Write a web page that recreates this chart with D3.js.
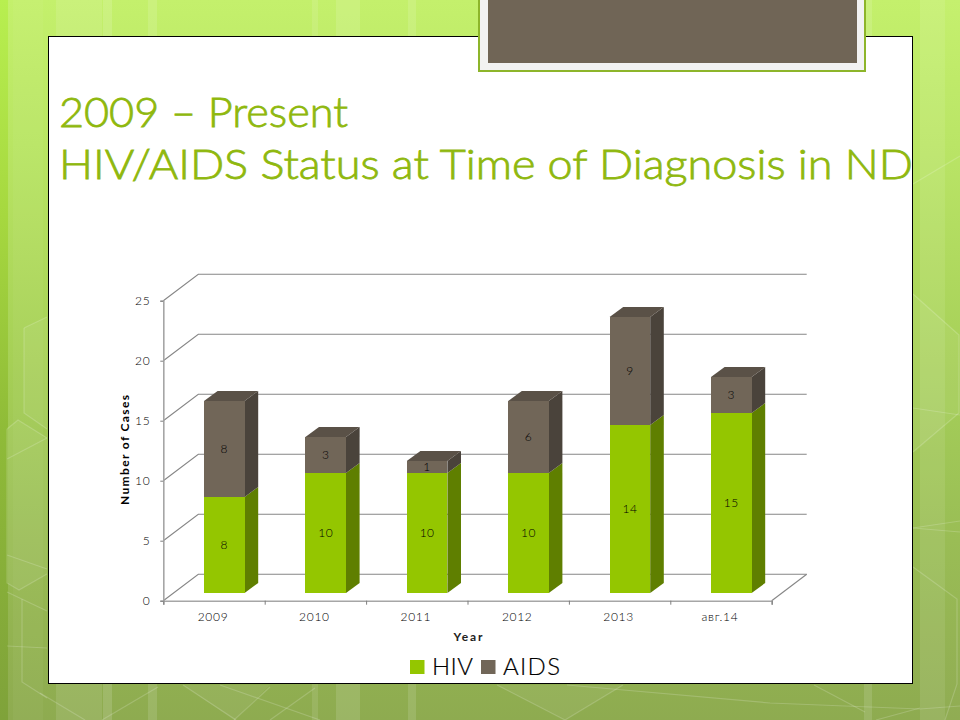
<!DOCTYPE html>
<html><head><meta charset="utf-8">
<style>html,body{margin:0;padding:0;background:#fff;overflow:hidden}svg{display:block}</style>
<script src="https://cdn.jsdelivr.net/npm/d3@7/dist/d3.min.js"></script>
</head><body><svg id="c" width="960" height="720"></svg>
<script>
const categories = ["2009","2010","2011","2012","2013","авг.14"];
const hivValues = [8,10,10,10,14,15];
const aidsValues = [8,3,1,6,9,3];
const yTicks = [0,5,10,15,20,25];
const seriesNames = ["HIV","AIDS"];
const titleLines = ["2009 – Present","HIV/AIDS Status at Time of Diagnosis in ND"];

const FONT = "Lato, 'Open Sans', sans-serif";
const svg = d3.select("#c");
const defs = svg.append("defs");

// slide background
const bg = defs.append("linearGradient").attr("id","bg").attr("x1",0).attr("y1",0).attr("x2",0).attr("y2",1);
[[0,"#c4f06c"],[0.2,"#b9e563"],[0.5,"#a6d056"],[0.75,"#98bc52"],[1,"#8eab50"]].forEach(s=>bg.append("stop").attr("offset",s[0]).attr("stop-color",s[1]));
svg.append("rect").attr("width",960).attr("height",720).attr("fill","url(#bg)");
// darker left edge band
const dk = defs.append("linearGradient").attr("id","dk").attr("x1",0).attr("y1",0).attr("x2",0).attr("y2",1);
[[0,"#b8ef50"],[0.3,"#a6d83f"],[0.6,"#8fbb38"],[1,"#7fa23a"]].forEach(s=>dk.append("stop").attr("offset",s[0]).attr("stop-color",s[1]));
svg.append("rect").attr("width",8).attr("height",720).attr("fill","url(#dk)");
// vertical light stripes
const stripes = [[13,43,.04],[56,102,.10],[103,112,.14],[148,157,.12],[312,318,.10],[336,360,.12],[408,416,.12],[864,872,.12],[920,945,.10],[945,960,.02]];
svg.append("g").selectAll("rect").data(stripes).join("rect")
  .attr("x",d=>d[0]).attr("y",0).attr("width",d=>d[1]-d[0]).attr("height",720).attr("fill","#fff").attr("opacity",d=>d[2]);
// faint facets
const facets = [
 "M7,429L18,420L47,438L47,574L19,590L7,583Z","M24,328L47,317L47,429L24,413Z",
 "M913,294L959,335L959,413L913,452Z","M497,685L623,685L565,720Z","M183,685L270,685L234,720Z"
];
svg.append("g").selectAll("path").data(facets).join("path").attr("d",d=>d).attr("fill","#fff").attr("opacity",.06);
const sketchLines = [
 "M24,328L47,317","M24,328L24,413L47,429","M7,429L18,420L47,438","M7,429L7,583L19,590L47,574","M7,459L47,438","M7,555L47,569","M7,592L47,611","M22,599L22,682L47,698","M7,646L47,648",
 "M913,184L960,156","M913,294L959,335L959,413L913,452","M913,408L960,415","M913,528L960,521","M913,528L960,532","M913,567L957,599L957,684L945,720",
 "M40,693L85,720","M158,687L102,720","M183,685L236,720","M220,685L320,720","M270,687L234,720","M315,688L270,720","M497,685L565,720","M623,685L565,720","M567,685L770,703L920,709L960,706","M814,685L865,712","M920,708L876,720"
];
svg.append("g").attr("fill","none").attr("stroke","#fff").attr("stroke-opacity",.18).attr("stroke-width",1.2)
  .selectAll("path").data(sketchLines).join("path").attr("d",d=>d);

// white panel
svg.append("rect").attr("x",48.5).attr("y",36.5).attr("width",864).attr("height",647)
  .attr("fill","#fff").attr("stroke","#000").attr("stroke-width",1);

// top tab
svg.append("rect").attr("x",479).attr("y",-3).attr("width",386).attr("height",74)
  .attr("fill","#f2f2f2").attr("stroke","#8db52a").attr("stroke-width",2);
svg.append("rect").attr("x",488).attr("y",-3).attr("width",369).attr("height",66).attr("fill","#706556");

// title
svg.append("g").selectAll("text").data(titleLines).join("text")
  .attr("x",59).attr("y",(d,i)=>127+i*52)
  .attr("font-family",FONT).attr("font-size",41).attr("font-weight",300).attr("fill","#8fb80e")
  .attr("stroke","#8fb80e").attr("stroke-width",0.8)
  .attr("textLength",(d,i)=>i?854:289).attr("lengthAdjust","spacingAndGlyphs")
  .text(d=>d);

// chart geometry
const x = d3.scaleBand().domain(categories).range([163.3,771.7]);
const y = d3.scaleLinear().domain([0,25]).range([600.7,300.7]);
const wallDx = 35, wallDy = -26.4;
const barBaseDx = 10.3, barBaseDy = -7.7;
const barW = 40.6, sideDx = 13.6, sideDy = -10;

// walls: floor & gridlines
const grid = svg.append("g").attr("fill","none").attr("stroke","#868686").attr("stroke-width",1.1);
grid.selectAll("path.g").data(yTicks).join("path").attr("class","g")
  .attr("d",t=>{const py=y(t);return `M${x.range()[0]},${py}L${x.range()[0]+wallDx},${py+wallDy}L${x.range()[1]+wallDx},${py+wallDy}`;});
grid.append("path").attr("d",`M${x.range()[1]},${y(0)}L${x.range()[1]+wallDx},${y(0)+wallDy}`);

// axes
const axY = svg.append("g").attr("transform",`translate(${x.range()[0]},0)`)
  .call(d3.axisLeft(y).tickValues(yTicks).tickSize(3).tickPadding(10));
const axX = svg.append("g").attr("transform",`translate(0,${y(0)})`);
const xTickVals = d3.range(categories.length+1).map(i=>x.range()[0]+i*x.step());
axX.call(d3.axisBottom(d3.scaleLinear().domain(x.range()).range(x.range())).tickValues(xTickVals).tickSize(4).tickFormat(""));
axX.selectAll("text.cat").data(categories).join("text").attr("class","cat")
  .attr("x",d=>x(d)+x.bandwidth()/2-1).attr("y",20.5).attr("text-anchor","middle").text(d=>d);
[axY,axX].forEach(a=>{
  a.selectAll("path.domain").attr("stroke","#a6a6a6").attr("stroke-width",1.6);
  a.selectAll(".tick line").attr("stroke","#7f7f7f");
  a.selectAll("text").attr("font-family",FONT).attr("font-size",12).attr("font-weight",300).attr("letter-spacing",0.7).attr("fill","#000");
});

// stacked bars
const stacks = d3.stack().keys(["hiv","aids"])(categories.map((c,i)=>({c,hiv:hivValues[i],aids:aidsValues[i]})));
const palette = {hiv:{front:"#94c600",side:"#5f7f00",top:"#76a000"},aids:{front:"#716658",side:"#4a433b",top:"#5a5147"}};
const layers = svg.append("g");
stacks.forEach(st=>{
  const col = palette[st.key];
  const g = layers.append("g");
  st.forEach(d=>{
    const x0 = x(d.data.c)+barBaseDx+(x.bandwidth()-barW)/2, x1 = x0+barW;
    const yb = y(d[0])+barBaseDy, yt = y(d[1])+barBaseDy;
    g.append("path").attr("fill",col.side)
      .attr("d",`M${x1},${yb}L${x1+sideDx},${yb+sideDy}L${x1+sideDx},${yt+sideDy}L${x1},${yt}Z`);
    if(st.key==="aids") g.append("path").attr("fill",col.top)
      .attr("d",`M${x0},${yt}L${x0+sideDx},${yt+sideDy}L${x1+sideDx},${yt+sideDy}L${x1},${yt}Z`);
    g.append("rect").attr("x",x0).attr("y",yt).attr("width",barW).attr("height",yb-yt).attr("fill",col.front).attr("shape-rendering","crispEdges");
    g.append("text").attr("x",(x0+x1)/2).attr("y",(yb+yt)/2).attr("dy","0.35em")
      .attr("text-anchor","middle").attr("font-family",FONT).attr("font-size",12).attr("font-weight",300).attr("letter-spacing",0.5).attr("fill","#000")
      .text(d[1]-d[0]);
  });
});

// axis titles
svg.append("text").attr("transform","translate(129,450) rotate(-90)").attr("text-anchor","middle")
  .attr("font-family",FONT).attr("font-size",12).attr("font-weight",700).attr("fill","#000").attr("textLength",110).text("Number of Cases");
svg.append("text").attr("x",468).attr("y",641).attr("text-anchor","middle")
  .attr("font-family",FONT).attr("font-size",12).attr("font-weight",700).attr("fill","#222").attr("textLength",29).text("Year");

// legend
const legendX = [410,481], legendTextX=[432,503], legendLen=[41,57];
const lg = svg.append("g");
seriesNames.forEach((n,i)=>{
  lg.append("rect").attr("x",legendX[i]).attr("y",660).attr("width",14.5).attr("height",14)
    .attr("fill",i?palette.aids.front:palette.hiv.front);
  lg.append("text").attr("x",legendTextX[i]).attr("y",675).attr("font-family",FONT).attr("font-size",24).attr("font-weight",300).attr("fill","#000")
    .attr("stroke","#000").attr("stroke-width",0.2)
    .attr("textLength",legendLen[i]).text(n);
});
</script></body></html>
